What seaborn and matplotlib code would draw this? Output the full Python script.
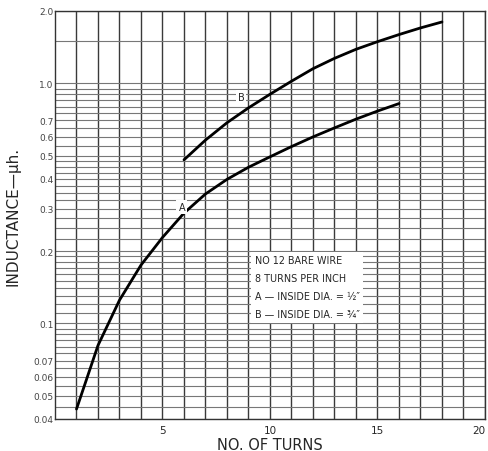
import numpy as np
import pandas as pd
import matplotlib
matplotlib.use("Agg")
import matplotlib.pyplot as plt
import seaborn as sns
from matplotlib.ticker import FixedLocator, NullFormatter

# values
turns_a = [1, 2, 3, 4, 5, 6, 7, 8, 9, 10, 11, 12, 13, 14, 15, 16]
induct_a = [0.044, 0.081, 0.125, 0.175, 0.228, 0.288, 0.346, 0.398, 0.447, 0.494,
            0.545, 0.598, 0.652, 0.709, 0.766, 0.823]
turns_b = [6, 7, 8, 9, 10, 11, 12, 13, 14, 15, 16, 17, 18]
induct_b = [0.48, 0.58, 0.685, 0.79, 0.90, 1.02, 1.15, 1.27, 1.385, 1.49, 1.595, 1.70, 1.80]

ytick_vals = [0.04, 0.05, 0.06, 0.07, 0.1, 0.2, 0.3, 0.4, 0.5, 0.6, 0.7, 1.0, 2.0]
ytick_labels = ["0.04", "0.05", "0.06", "0.07", "0.1", "0.2", "0.3", "0.4", "0.5",
                "0.6", "0.7", "1.0", "2.0"]
xtick_vals = [5, 10, 15, 20]

df = pd.concat([
    pd.DataFrame({"turns": turns_a, "L": induct_a, "curve": "A"}),
    pd.DataFrame({"turns": turns_b, "L": induct_b, "curve": "B"}),
])

sns.set_style("white")
plt.rcParams["font.family"] = ["DejaVu Sans"]

fig = plt.figure(figsize=(4.88, 4.52), dpi=100)
ax = fig.add_axes([0.1127, 0.0708, 0.8811, 0.9027])

sns.lineplot(data=df, x="turns", y="L", units="curve", estimator=None,
             color="black", linewidth=2.0, legend=False, ax=ax)

ax.set_yscale("log")
ax.set_xlim(0, 20)
ax.set_ylim(0.04, 2.0)

# grid layout like the printed graph paper
minor_y = list(np.arange(0.04, 0.1, 0.005)) + list(np.arange(0.1, 0.2, 0.01)) \
    + list(np.arange(0.2, 0.5, 0.025)) + list(np.arange(0.5, 1.0, 0.05)) + [1.0, 1.5]
ax.yaxis.set_major_locator(FixedLocator(ytick_vals))
ax.set_yticklabels(ytick_labels)
ax.yaxis.set_minor_locator(FixedLocator(minor_y))
ax.yaxis.set_minor_formatter(NullFormatter())
ax.xaxis.set_major_locator(FixedLocator(xtick_vals))
ax.xaxis.set_minor_locator(FixedLocator(list(range(1, 20))))
ax.grid(which="both", axis="y", color="#777777", linewidth=0.8)
ax.grid(which="both", axis="x", color="#3a3a3a", linewidth=1.0)
ax.set_axisbelow(True)
ax.tick_params(which="both", length=0)
ax.tick_params(axis="y", labelsize=6.5, labelcolor="#444444", pad=1)
ax.tick_params(axis="x", labelsize=7.5, pad=4)
ax.get_xticklabels()[-1].set_horizontalalignment("right")
for s in ax.spines.values():
    s.set_color("#333333")
    s.set_linewidth(1.0)

ax.set_xlabel("NO. OF TURNS", fontsize=10.5, labelpad=2)
ax.set_ylabel("INDUCTANCE\u2014\u03bch.", fontsize=11, labelpad=9)

box = dict(facecolor="white", edgecolor="none", pad=1.5)
ax.text(5.9, 0.305, "A", fontsize=7, ha="center", va="center", bbox=box)
ax.text(8.65, 0.88, "B", fontsize=7, ha="center", va="center", bbox=box)
ax.text(9.3, 0.192,
        "NO 12 BARE WIRE\n8 TURNS PER INCH\nA \u2014 INSIDE DIA. = \u00bd\u2033\nB \u2014 INSIDE DIA. = \u00be\u2033",
        fontsize=6.9, ha="left", va="top", linespacing=2.0,
        bbox=dict(facecolor="white", edgecolor="none", pad=2.5))

fig.savefig("out.png", dpi=100)
